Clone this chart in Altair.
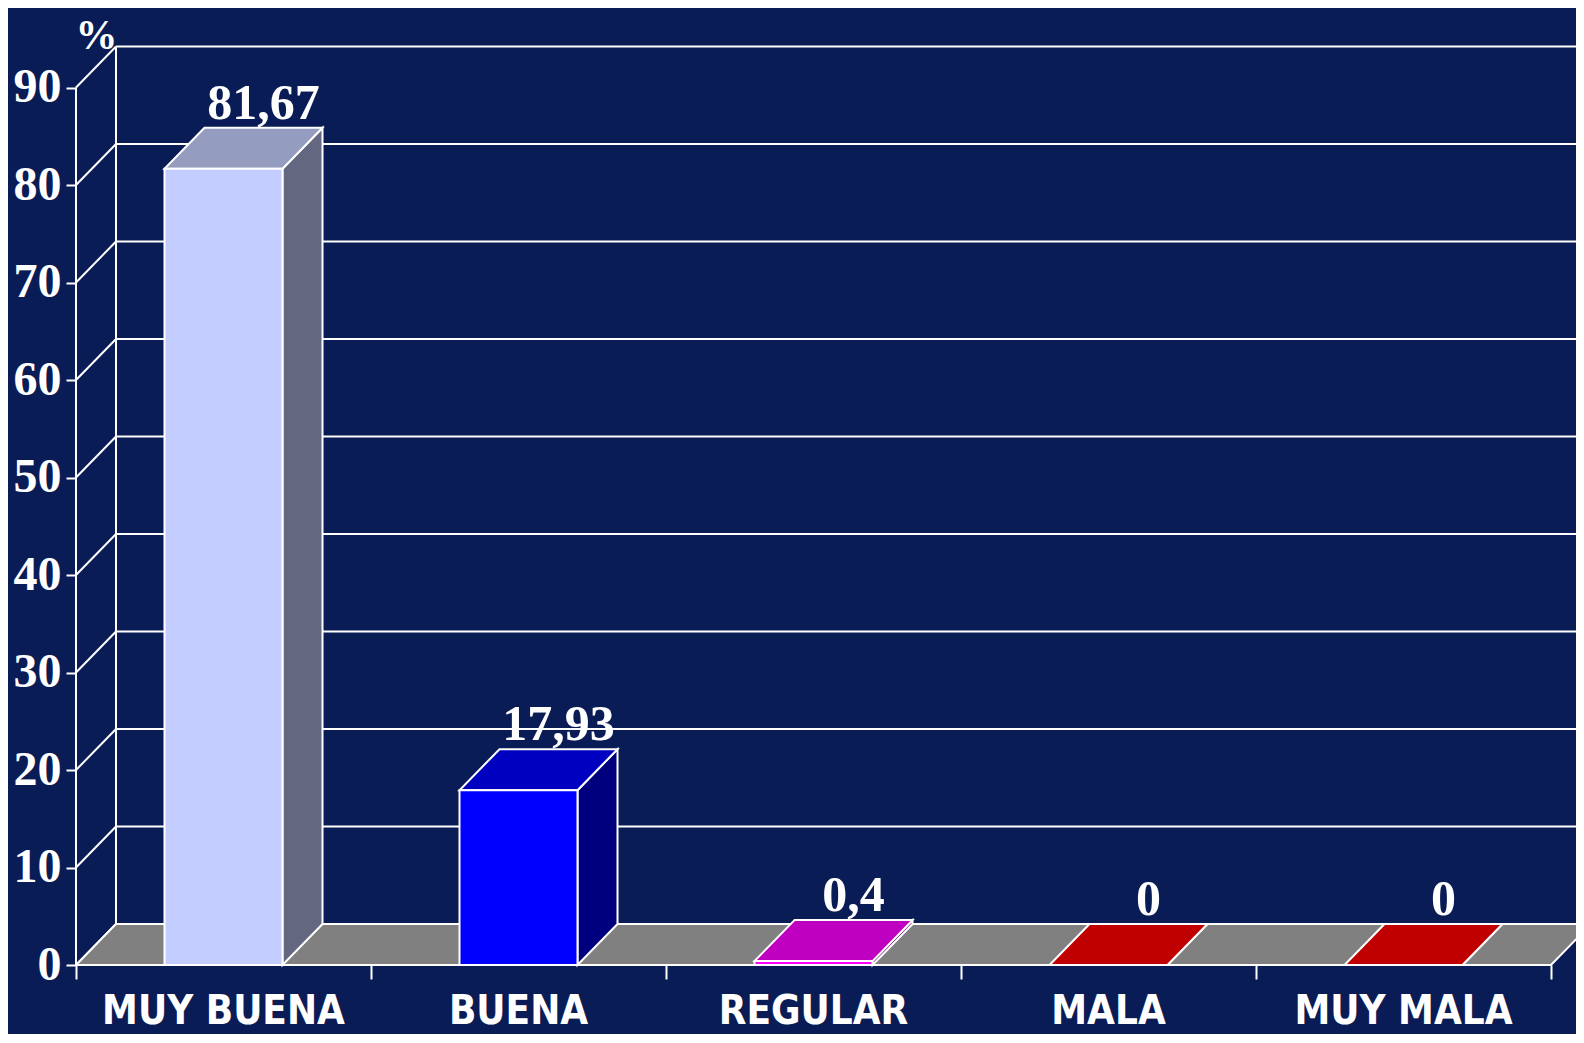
import altair as alt
import pandas as pd

# ---------------- data ----------------
categories = ["MUY BUENA", "BUENA", "REGULAR", "MALA", "MUY MALA"]
values = [81.67, 17.93, 0.4, 0.0, 0.0]
value_labels = ["81,67", "17,93", "0,4", "0", "0"]
y_ticks = [0, 10, 20, 30, 40, 50, 60, 70, 80, 90]

# ---------------- style ----------------
BG = "#0a1c55"
FRONT_COLORS = ["#c4cdff", "#0000ff", "#ff00ff", "#c00000", "#c00000"]
TOP_COLORS = ["#949dbf", "#0000c0", "#c000c0", "#c00000", "#c00000"]
SIDE_COLORS = ["#636780", "#00007f", "#800080", "#800000", "#800000"]
FLOOR = "#808080"
SERIF = "'Liberation Serif', 'Times New Roman', serif"
NARROW = "'DejaVu Sans Condensed', 'Arial Narrow', sans-serif"

# geometry of the pseudo-3D projection
PLOT_W, PLOT_H = 1500, 925
BAND_PX = 295.0          # pixels per category band
PX_PER_UNIT = 9.75       # pixels per percentage point
DX = 40 / BAND_PX        # depth offset in x units
DY = 41 / PX_PER_UNIT    # depth offset in y units
BAR_W = 0.4
N = len(categories)
XMAX = PLOT_W / BAND_PX
YMAX = PLOT_H / PX_PER_UNIT
YTOP = y_ticks[-1]

xscale = alt.Scale(domain=[0, XMAX], nice=False, zero=False)
yscale = alt.Scale(domain=[0, YMAX], nice=False, zero=False)

xaxis = alt.Axis(values=list(range(N + 1)), labels=False, tickSize=14, tickWidth=2,
                 tickColor="white", domain=False, grid=False, title=None)
yaxis = alt.Axis(values=y_ticks, title="%", titleAngle=0, titleX=20, titleY=8,
                 titleAlign="center", titleBaseline="alphabetic", titleFont=SERIF,
                 titleFontSize=42, titleFontWeight="bold", titleColor="white",
                 labelFont=SERIF, labelFontSize=48, labelFontWeight="bold",
                 labelColor="white", labelPadding=5, labelOverlap=False,
                 tickColor="white", tickSize=10, tickWidth=2, domain=False, grid=False)


def X(f="x"):
    return alt.X(f"{f}:Q", scale=xscale, axis=xaxis, stack=None)


def Y(f="y"):
    return alt.Y(f"{f}:Q", scale=yscale, axis=yaxis, stack=None)


# ---------------- tables ----------------
# wall / axis lines
lines = []
for v in y_ticks:
    lines.append(dict(x=0, x2=DX, y=v, y2=v + DY))          # side wall diagonals
    lines.append(dict(x=DX, x2=XMAX, y=v + DY, y2=v + DY))  # back wall gridlines
lines.append(dict(x=DX, x2=DX, y=DY, y2=YTOP + DY))         # back wall left edge
lines.append(dict(x=0, x2=0, y=0, y2=YTOP))                 # front value axis
lines.append(dict(x=0, x2=N, y=0, y2=0))                    # front category axis
lines = pd.DataFrame(lines)

floor = pd.DataFrame([
    dict(y=0, x=0, x2=N),
    dict(y=DY, x=DX, x2=N + DX),
])

front, top, side, labels, cats = [], [], [], [], []
for i, (c, v, lab) in enumerate(zip(categories, values, value_labels)):
    x0 = i + 0.5 - BAR_W / 2
    x1 = i + 0.5 + BAR_W / 2
    front.append(dict(cat=c, x=x0, x2=x1, y=0, y2=v, col=FRONT_COLORS[i]))
    top.append(dict(cat=c, y=v, x=x0, x2=x1, col=TOP_COLORS[i]))
    top.append(dict(cat=c, y=v + DY, x=x0 + DX, x2=x1 + DX, col=TOP_COLORS[i]))
    side.append(dict(cat=c, x=x1, y=0, y2=v, col=SIDE_COLORS[i]))
    side.append(dict(cat=c, x=x1 + DX, y=DY, y2=v + DY, col=SIDE_COLORS[i]))
    labels.append(dict(cat=c, x=i + 0.5 + DX, y=v + DY, label=lab))
    cats.append(dict(cat=c, x=i + 0.5, y=0))
front, top, side = pd.DataFrame(front), pd.DataFrame(top), pd.DataFrame(side)
labels, cats = pd.DataFrame(labels), pd.DataFrame(cats)

# ---------------- layers ----------------
wall = alt.Chart(lines).mark_rule(color="white", strokeWidth=2).encode(
    x=X(), x2="x2:Q", y=Y(), y2="y2:Q")

floor_l = alt.Chart(floor).mark_area(orient="horizontal", fill=FLOOR, stroke="white",
                                      strokeWidth=2, opacity=1).encode(
    y=Y(), x=X(), x2="x2:Q")

side_l = alt.Chart(side).mark_area(orient="vertical", stroke="white", strokeWidth=2,
                                    opacity=1).encode(
    x=X(), y=Y(), y2="y2:Q", detail="cat:N", fill=alt.Fill("col:N", scale=None))

top_l = alt.Chart(top).mark_area(orient="horizontal", stroke="white", strokeWidth=2,
                                  opacity=1).encode(
    y=Y(), x=X(), x2="x2:Q", detail="cat:N", fill=alt.Fill("col:N", scale=None))

front_l = alt.Chart(front).mark_rect(stroke="white", strokeWidth=2).encode(
    x=X(), x2="x2:Q", y=Y(), y2="y2:Q", fill=alt.Fill("col:N", scale=None))

val_l = alt.Chart(labels).mark_text(font=SERIF, fontSize=50, fontWeight="bold",
                                    color="white", baseline="alphabetic",
                                    align="center", dy=-9).encode(
    x=X(), y=Y(), text="label:N")

cat_l = alt.Chart(cats).mark_text(font=NARROW, fontSize=40, fontWeight="bold",
                                  color="white", baseline="alphabetic",
                                  align="center", dy=59).encode(
    x=X(), y=Y(), text="cat:N")

chart = alt.layer(wall, floor_l, side_l, top_l, front_l, val_l, cat_l).properties(
    width=PLOT_W, height=PLOT_H,
    padding={"left": 68, "top": 32, "right": 0, "bottom": 69},
    autosize=alt.AutoSizeParams(type="none"),
    background=BG,
).configure_view(stroke=None)

chart.save("out.html", embed_options={"renderer": "svg", "actions": False})
